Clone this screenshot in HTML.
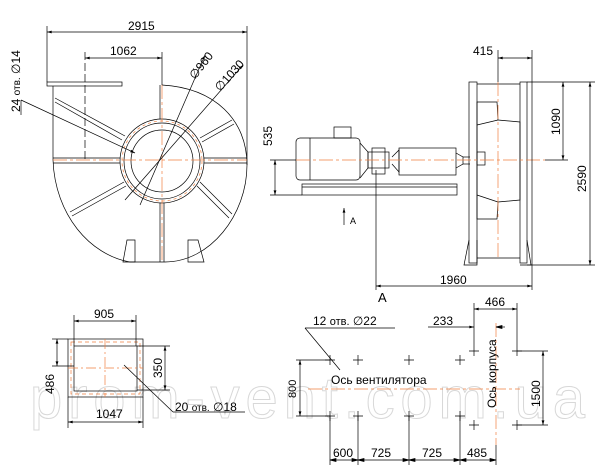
<!DOCTYPE html><html><head><style>body{margin:0;background:#fff}svg{display:block}text{font-family:"Liberation Sans",sans-serif;fill:#000}</style></head><body>
<svg width="610" height="475" viewBox="0 0 610 475" xmlns="http://www.w3.org/2000/svg">
<defs><marker id="a" viewBox="0 0 10 6" refX="10" refY="3" markerWidth="8" markerHeight="4" orient="auto-start-reverse"><path d="M0,0L10,3L0,6z" fill="#000"/></marker></defs>
<text x="30" y="418" font-size="58" fill="none" stroke="#d8d8d8" stroke-width="1" style="fill:none" textLength="555">prom-vent.com.ua</text>
<g stroke="#000" stroke-width="0.7" fill="none">
<line x1="47" y1="26" x2="47" y2="82"/><line x1="247" y1="26" x2="247" y2="165"/>
<line x1="47" y1="32" x2="247" y2="32" marker-start="url(#a)" marker-end="url(#a)"/>
<line x1="85" y1="52" x2="85" y2="160" stroke-dasharray="8,3"/><line x1="162" y1="52" x2="162" y2="85"/>
<line x1="85" y1="58" x2="162" y2="58" marker-start="url(#a)" marker-end="url(#a)"/>
<rect x="47" y="82" width="75" height="4"/>
<line x1="53" y1="86" x2="53" y2="160"/>
<path d="M162,85 C215,88 247,120 247,165 C247,215 210,262 165,262 L130,262 C90,255 55,215 53,160"/>
<circle cx="162" cy="161" r="42"/><circle cx="162" cy="161" r="38"/><circle cx="162" cy="161" r="31"/>
<circle cx="162" cy="161" r="40" stroke="#f08040" stroke-dasharray="3,3"/>
<g stroke="#f08040" stroke-dasharray="14,3,3,3"><line x1="53" y1="160" x2="247" y2="160"/><line x1="162" y1="85" x2="162" y2="262"/></g>
<line x1="53" y1="158" x2="120" y2="158"/><line x1="53" y1="163" x2="120" y2="163"/><line x1="204" y1="158" x2="247" y2="158"/><line x1="204" y1="163" x2="247" y2="163"/>
<line x1="160" y1="85" x2="160" y2="119"/><line x1="160" y1="203" x2="160" y2="262"/><line x1="164" y1="203" x2="164" y2="262"/>
<path d="M55,98 L125,136 M55,102 L122,140"/>
<path d="M200,138 L232,120 M202,142 L234,124"/>
<path d="M200,182 L232,214 M197,186 L229,218"/>
<path d="M124,182 L70,212 M126,186 L72,216"/>
<path d="M123,262 L127,240 L135,240 L135,262 Z M188,240 L198,240 L204,262 L188,262 Z"/>
<line x1="21" y1="115" x2="21" y2="100"/><line x1="21" y1="100" x2="135" y2="153" marker-end="url(#a)"/>
<line x1="205" y1="55" x2="140" y2="205" marker-start="url(#a)"/><line x1="243" y1="65" x2="125" y2="200" marker-start="url(#a)"/>
<rect x="296" y="138" width="64" height="42" rx="4"/><line x1="310" y1="138" x2="310" y2="180"/>
<path d="M360,143 L368,152 L368,168 L360,178"/>
<rect x="334" y="127" width="17" height="11"/>
<rect x="372" y="148" width="13" height="26"/><rect x="368" y="152" width="21" height="16"/>
<path d="M392,157 L399,150 L399,172 L392,164"/>
<rect x="399" y="148" width="57" height="27"/><path d="M456,153 L463,157 L463,164 L456,168"/><line x1="463" y1="157" x2="470" y2="157"/><line x1="463" y1="164" x2="470" y2="164"/>
<rect x="302" y="184" width="155" height="11"/><line x1="302" y1="187" x2="457" y2="187"/>
<rect x="469" y="82" width="8" height="181"/><rect x="520" y="82" width="7" height="181"/>
<line x1="477" y1="84" x2="520" y2="84"/><line x1="477" y1="258" x2="520" y2="258"/>
<path d="M477,102 L497,102 L498,120 L520,122 L520,200 L498,202 L497,219 L477,219 Z"/>
<line x1="477" y1="125" x2="498" y2="120"/><line x1="477" y1="195" x2="498" y2="202"/>
<path d="M469,240 L464,265 L477,265 L477,240 M527,240 L531,265 L520,265"/>
<rect x="477" y="152" width="8" height="13"/>
<line x1="498" y1="82" x2="498" y2="258" stroke="#f08040" stroke-dasharray="14,3,3,3"/>
<line x1="296" y1="160" x2="545" y2="160" stroke="#f08040" stroke-dasharray="14,3,3,3"/>
<line x1="532" y1="50" x2="532" y2="290"/><line x1="498" y1="50" x2="498" y2="82"/>
<line x1="498" y1="58" x2="532" y2="58" marker-start="url(#a)" marker-end="url(#a)"/>
<line x1="527" y1="82" x2="595" y2="82"/><line x1="527" y1="265" x2="595" y2="265"/>
<line x1="590" y1="82" x2="590" y2="265" marker-start="url(#a)" marker-end="url(#a)"/>
<line x1="545" y1="160" x2="568" y2="160"/><line x1="563" y1="82" x2="563" y2="160" marker-start="url(#a)" marker-end="url(#a)"/>
<line x1="270" y1="160" x2="296" y2="160"/><line x1="270" y1="195" x2="302" y2="195"/>
<line x1="275" y1="160" x2="275" y2="195" marker-start="url(#a)" marker-end="url(#a)"/>
<line x1="376" y1="170" x2="376" y2="290"/>
<line x1="376" y1="286" x2="532" y2="286" marker-start="url(#a)" marker-end="url(#a)"/>
<line x1="344" y1="225" x2="344" y2="208" marker-end="url(#a)"/>
<rect x="68" y="339" width="75" height="58"/><rect x="74" y="346" width="63" height="45"/>
<rect x="71" y="342" width="69" height="52" stroke="#f08040" stroke-dasharray="4,3"/>
<line x1="68" y1="368" x2="143" y2="368" stroke="#f08040" stroke-dasharray="10,3,2,3"/>
<line x1="105" y1="339" x2="105" y2="397" stroke="#f08040" stroke-dasharray="10,3,2,3"/>
<line x1="74" y1="315" x2="74" y2="346"/><line x1="136" y1="315" x2="136" y2="346"/>
<line x1="74" y1="321" x2="136" y2="321" marker-start="url(#a)" marker-end="url(#a)"/>
<line x1="68" y1="397" x2="68" y2="428"/><line x1="143" y1="397" x2="143" y2="428"/>
<line x1="68" y1="422" x2="143" y2="422" marker-start="url(#a)" marker-end="url(#a)"/>
<line x1="52" y1="339" x2="68" y2="339"/><line x1="52" y1="366" x2="74" y2="366"/>
<line x1="57" y1="339" x2="57" y2="366" marker-start="url(#a)" marker-end="url(#a)"/>
<line x1="137" y1="346" x2="170" y2="346"/><line x1="137" y1="390" x2="170" y2="390"/>
<line x1="165" y1="346" x2="165" y2="390" marker-start="url(#a)" marker-end="url(#a)"/>
<line x1="124" y1="365" x2="173" y2="412"/><line x1="173" y1="412" x2="245" y2="412"/>
<g stroke="#f08040" stroke-dasharray="14,3,3,3"><line x1="308" y1="389" x2="520" y2="389"/><line x1="496" y1="323" x2="496" y2="445"/></g>
<path d="M325,360h10M330,355v10M353,360h10M358,355v10M404,360h10M409,355v10M455,360h10M460,355v10M325,416h10M330,411v10M353,416h10M358,411v10M404,416h10M409,411v10M455,416h10M460,411v10M469,351h10M474,346v10M512,351h10M517,346v10M469,425h10M474,420v10M512,425h10M517,420v10"/>
<line x1="296" y1="360" x2="330" y2="360"/><line x1="296" y1="416" x2="330" y2="416"/>
<line x1="300" y1="360" x2="300" y2="416" marker-start="url(#a)" marker-end="url(#a)"/>
<line x1="517" y1="351" x2="548" y2="351"/><line x1="517" y1="425" x2="548" y2="425"/>
<line x1="543" y1="351" x2="543" y2="425" marker-start="url(#a)" marker-end="url(#a)"/>
<path d="M330,416V465M358,416V465M409,416V465M460,416V465M496,445V465"/>
<line x1="330" y1="460" x2="496" y2="460"/>
<path d="M330,460l6,-1.5v3zM358,460l-6,-1.5v3zM358,460l6,-1.5v3zM409,460l-6,-1.5v3zM409,460l6,-1.5v3zM460,460l-6,-1.5v3zM460,460l6,-1.5v3zM496,460l-6,-1.5v3z" fill="#000"/>
<line x1="474" y1="303" x2="474" y2="346"/><line x1="517" y1="303" x2="517" y2="346"/>
<line x1="474" y1="309" x2="517" y2="309" marker-start="url(#a)" marker-end="url(#a)"/>
<line x1="428" y1="327" x2="474" y2="327" marker-end="url(#a)"/><line x1="496" y1="327" x2="505" y2="327"/><path d="M496,327l6,-1.5v3z" fill="#000"/>
<line x1="305" y1="328" x2="395" y2="328"/><line x1="305" y1="328" x2="340" y2="370"/>
</g>
<g font-size="12">
<text x="128" y="30">2915</text><text x="110" y="55">1062</text>
<text transform="translate(20,112) rotate(-90)">24 <tspan font-size="10">отв.</tspan> ∅14</text>
<text transform="translate(195,80) rotate(-52)">∅960</text><text transform="translate(220,92) rotate(-48)">∅1030</text>
<text x="473" y="55">415</text>
<text transform="translate(560,135) rotate(-90)">1090</text><text transform="translate(586,192) rotate(-90)">2590</text>
<text transform="translate(272,146) rotate(-90)">535</text>
<text x="440" y="284">1960</text><text x="378" y="302" font-size="13">A</text><text x="350" y="224" font-size="9">A</text>
<text x="94" y="318">905</text><text x="96" y="418">1047</text>
<text transform="translate(54,394) rotate(-90)">486</text><text transform="translate(162,378) rotate(-90)">350</text>
<text x="175" y="411">20 <tspan font-size="10">отв.</tspan> ∅18</text>
<text x="313" y="325">12 <tspan font-size="11">отв.</tspan>   ∅22</text>
<text x="331" y="384">Ось вентилятора</text>
<text transform="translate(496,408) rotate(-90)">Ось корпуса</text>
<text transform="translate(296,398) rotate(-90)" font-size="11">800</text>
<text transform="translate(540,407) rotate(-90)">1500</text>
<text x="433" y="325">233</text><text x="485" y="306">466</text>
<text x="333" y="457">600</text><text x="371" y="457">725</text><text x="422" y="457">725</text><text x="467" y="457">485</text>
</g>
</svg></body></html>
